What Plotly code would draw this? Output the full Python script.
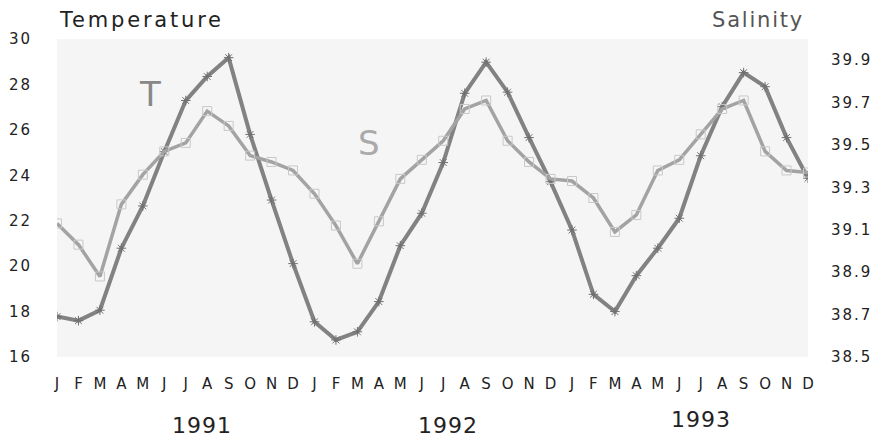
import plotly.graph_objects as go

months = ["J", "F", "M", "A", "M", "J", "J", "A", "S", "O", "N", "D"] * 3
years = ["1991", "1992", "1993"]
year_pos = [6.75, 18.2, 30.0]

temperature = [17.78, 17.6, 18.06, 20.79, 22.65, 25.04, 27.29, 28.35, 29.18, 25.8, 22.91, 20.11,
               17.55, 16.75, 17.11, 18.44, 20.9, 22.33, 24.56, 27.61, 28.98, 27.66, 25.66, 23.72,
               21.59, 18.76, 18.0, 19.58, 20.79, 22.11, 24.86, 27.02, 28.52, 27.9, 25.66, 23.87]
salinity = [39.13, 39.03, 38.88, 39.22, 39.36, 39.47, 39.51, 39.66, 39.59, 39.45, 39.42, 39.38,
            39.27, 39.12, 38.94, 39.14, 39.34, 39.43, 39.52, 39.67, 39.71, 39.52, 39.42, 39.34,
            39.33, 39.25, 39.09, 39.17, 39.38, 39.43, 39.55, 39.67, 39.71, 39.47, 39.38, 39.37]

t_ticks = [16, 18, 20, 22, 24, 26, 28, 30]
s_ticks = [38.5, 38.7, 38.9, 39.1, 39.3, 39.5, 39.7, 39.9]

x = list(range(len(months)))
FONT = "DejaVu Sans, Liberation Sans, Arial, sans-serif"


def spaced(s, px):
    return f"<span style='letter-spacing:{px}px'>{s}</span>"


fig = go.Figure()
fig.add_trace(go.Scatter(
    x=x, y=salinity, yaxis="y2", mode="lines+markers", name="Salinity",
    line=dict(color="#a3a3a3", width=3.5),
    marker=dict(symbol="square-open", size=9, color="#c8c8c8", line=dict(width=1, color="#c8c8c8")),
))
fig.add_trace(go.Scatter(
    x=x, y=temperature, mode="lines+markers", name="Temperature",
    line=dict(color="#828282", width=4),
    marker=dict(symbol="asterisk-open", size=8, color="#707070", line=dict(width=1, color="#707070")),
))

annotations = [
    dict(text=spaced("Temperature", 2.8), xref="paper", yref="paper", x=0.0, y=1.06, xanchor="left",
         yanchor="middle", showarrow=False, font=dict(size=21, color="#222222", family=FONT)),
    dict(text=spaced("Salinity", 1.8), xref="paper", yref="paper", x=0.997, y=1.06, xanchor="right",
         yanchor="middle", showarrow=False, font=dict(size=21, color="#555555", family=FONT)),
    dict(text="T", xref="x", yref="y", x=4.33, y=27.56, showarrow=False,
         font=dict(size=34, color="#888888", family=FONT)),
    dict(text="S", xref="x", yref="y", x=14.54, y=25.4, showarrow=False,
         font=dict(size=34, color="#aaaaaa", family=FONT)),
]
for yr, pos, yp in zip(years, year_pos, [-0.214, -0.214, -0.198]):
    annotations.append(dict(text=spaced(yr, 1), xref="x", yref="paper", x=pos, y=yp, showarrow=False,
                            yanchor="middle", font=dict(size=22, color="#222222", family=FONT)))

fig.update_layout(
    width=876, height=437,
    margin=dict(l=57, r=68, t=39, b=80, autoexpand=False),
    paper_bgcolor="white", plot_bgcolor="#f5f5f5",
    showlegend=False,
    font=dict(family=FONT, color="#222222", size=15),
    xaxis=dict(range=[0, 35], tickmode="array", tickvals=x, ticktext=months, automargin=False,
               showgrid=False, zeroline=False, showline=False, ticks="",
               tickfont=dict(size=15), ticklabelstandoff=16),
    yaxis=dict(range=[16, 30], tickmode="array", tickvals=t_ticks, automargin=False,
               ticktext=[spaced(str(v), 2) for v in t_ticks], showgrid=False,
               zeroline=False, showline=False, ticks="", tickfont=dict(size=15),
               ticklabelstandoff=24),
    yaxis2=dict(range=[38.5, 40.0], tickmode="array", tickvals=s_ticks, automargin=False,
                ticktext=[spaced(f"{v:.1f}", 2) for v in s_ticks],
                overlaying="y", side="right", showgrid=False, zeroline=False, showline=False,
                ticks="", tickfont=dict(size=15), ticklabelstandoff=22),
    annotations=annotations,
)

fig.write_html("out.html", config={"displayModeBar": False},
               post_script="document.body.style.margin='0';document.body.style.overflow='hidden';")
